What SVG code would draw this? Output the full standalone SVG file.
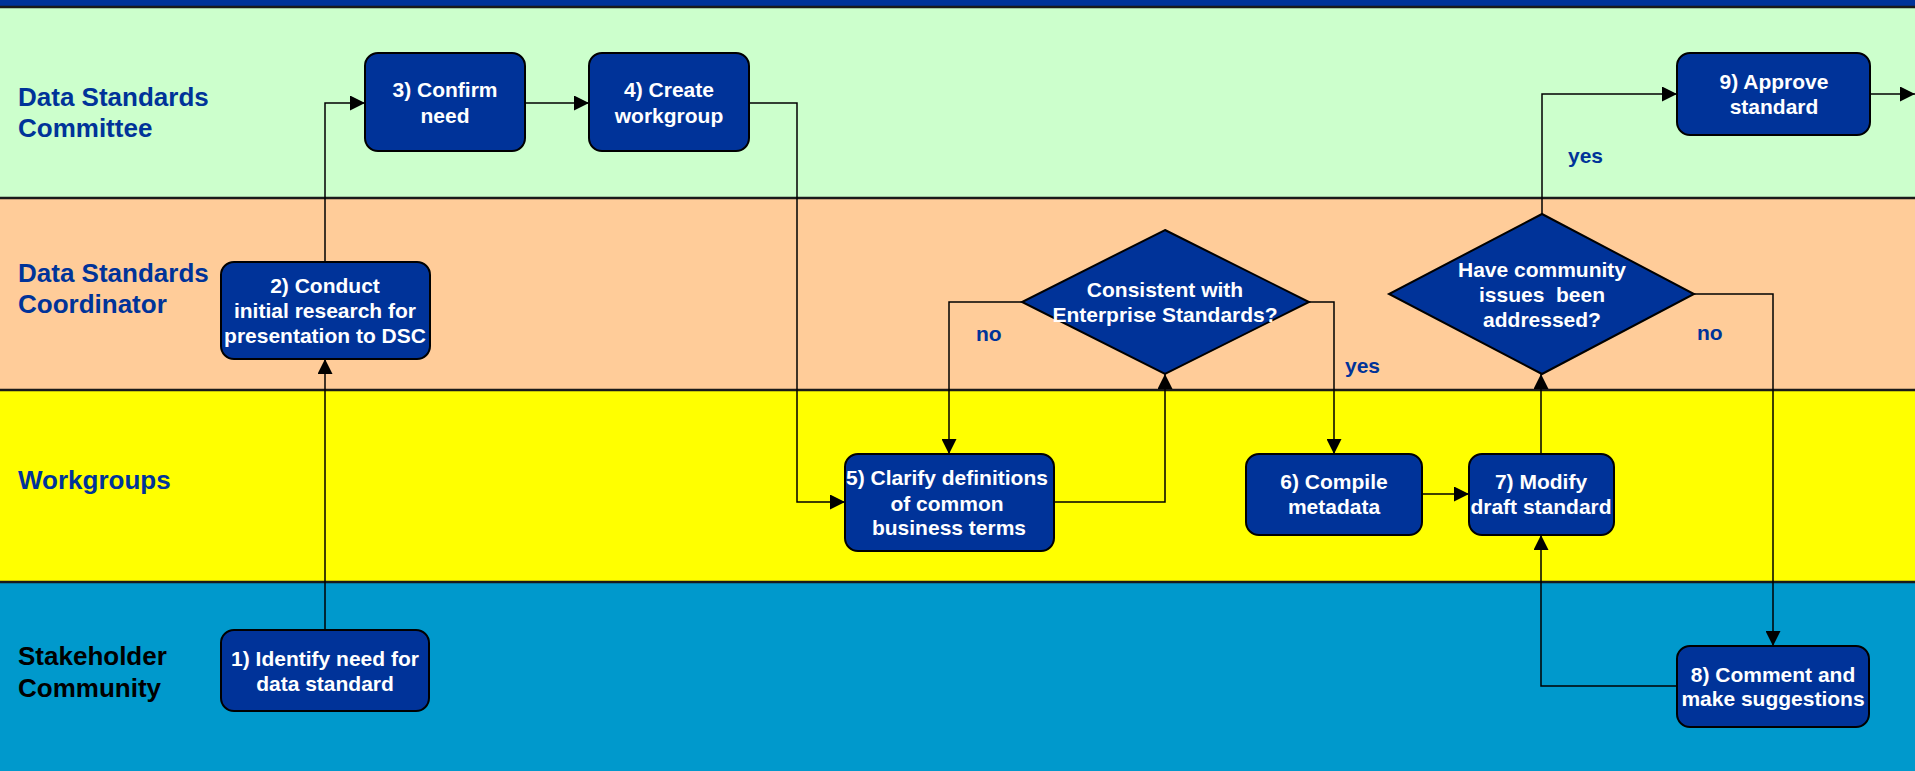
<svg xmlns="http://www.w3.org/2000/svg" width="1915" height="771" viewBox="0 0 1915 771">
<style>
.lane-label{font-family:"Liberation Sans",Arial,sans-serif;font-weight:bold;font-size:26px;fill:#003399}
.lane-label.dark{fill:#000}
.box{fill:#003399;stroke:#000;stroke-width:2}
.nt{font-family:"Liberation Sans",Arial,sans-serif;font-weight:bold;font-size:21px;fill:#fff;text-anchor:middle}
.lbl{font-family:"Liberation Sans",Arial,sans-serif;font-weight:bold;font-size:21px;fill:#003399}
.conn{fill:none;stroke:#000;stroke-width:1.5}
.sep{stroke:#1a1a1a;stroke-width:2.5}
</style>
<defs>
<marker id="arr" markerWidth="15" markerHeight="15" refX="15" refY="7.5" orient="auto" markerUnits="userSpaceOnUse">
<path d="M0,0 L15,7.5 L0,15 z" fill="#000"/>
</marker>
</defs>
<g id="lanes">
<rect x="0" y="0" width="1915" height="7" fill="#003399"/>
<rect x="0" y="7" width="1915" height="191" fill="#CCFFCC"/>
<rect x="0" y="198" width="1915" height="192" fill="#FFCC99"/>
<rect x="0" y="390" width="1915" height="192" fill="#FFFF00"/>
<rect x="0" y="582" width="1915" height="189" fill="#0099CC"/>
<line class="sep" x1="0" y1="7" x2="1915" y2="7"/>
<line class="sep" x1="0" y1="198" x2="1915" y2="198"/>
<line class="sep" x1="0" y1="390" x2="1915" y2="390"/>
<line class="sep" x1="0" y1="582" x2="1915" y2="582"/>
<text class="lane-label" x="18" y="106">Data Standards</text>
<text class="lane-label" x="18" y="137">Committee</text>
<text class="lane-label" x="18" y="282">Data Standards</text>
<text class="lane-label" x="18" y="313">Coordinator</text>
<text class="lane-label" x="18" y="489">Workgroups</text>
<text class="lane-label dark" x="18" y="665">Stakeholder</text>
<text class="lane-label dark" x="18" y="697">Community</text>
</g>
<g id="connectors">
<path class="conn" d="M325,630 L325,359" marker-end="url(#arr)"/>
<path class="conn" d="M325,262 L325,103 L365,103" marker-end="url(#arr)"/>
<path class="conn" d="M525,103 L589,103" marker-end="url(#arr)"/>
<path class="conn" d="M749,103 L797,103 L797,502 L845,502" marker-end="url(#arr)"/>
<path class="conn" d="M1054,502 L1165,502 L1165,374" marker-end="url(#arr)"/>
<path class="conn" d="M1022,302 L949,302 L949,454" marker-end="url(#arr)"/>
<path class="conn" d="M1309,302 L1334,302 L1334,454" marker-end="url(#arr)"/>
<path class="conn" d="M1422,494 L1469,494" marker-end="url(#arr)"/>
<path class="conn" d="M1541,454 L1541,374" marker-end="url(#arr)"/>
<path class="conn" d="M1542,214 L1542,94 L1677,94" marker-end="url(#arr)"/>
<path class="conn" d="M1694,294 L1773,294 L1773,646" marker-end="url(#arr)"/>
<path class="conn" d="M1677,686 L1541,686 L1541,535" marker-end="url(#arr)"/>
<path class="conn" d="M1870,94 L1915,94" marker-end="url(#arr)"/>
<text class="lbl" x="976" y="341">no</text>
<text class="lbl" x="1345" y="373">yes</text>
<text class="lbl" x="1568" y="163">yes</text>
<text class="lbl" x="1697" y="340">no</text>
</g>
<g id="node1">
<rect class="box" x="221" y="630" width="208" height="81" rx="13"/>
<text class="nt" x="325" y="666">1) Identify need for</text>
<text class="nt" x="325" y="691">data standard</text>
</g>
<g id="node2">
<rect class="box" x="221" y="262" width="209" height="97" rx="13"/>
<text class="nt" x="325" y="293">2) Conduct</text>
<text class="nt" x="325" y="318">initial research for</text>
<text class="nt" x="325" y="343">presentation to DSC</text>
</g>
<g id="node3">
<rect class="box" x="365" y="53" width="160" height="98" rx="13"/>
<text class="nt" x="445" y="97">3) Confirm</text>
<text class="nt" x="445" y="123">need</text>
</g>
<g id="node4">
<rect class="box" x="589" y="53" width="160" height="98" rx="13"/>
<text class="nt" x="669" y="97">4) Create</text>
<text class="nt" x="669" y="123">workgroup</text>
</g>
<g id="node5">
<rect class="box" x="845" y="454" width="209" height="97" rx="13"/>
<text class="nt" x="947" y="485">5) Clarify definitions</text>
<text class="nt" x="947" y="511">of common</text>
<text class="nt" x="949" y="535">business terms</text>
</g>
<g id="decision1">
<polygon class="box" points="1165,230 1309,302 1165,374 1022,302"/>
<text class="nt" x="1165" y="297">Consistent with</text>
<text class="nt" x="1165" y="322">Enterprise Standards?</text>
</g>
<g id="node6">
<rect class="box" x="1246" y="454" width="176" height="81" rx="13"/>
<text class="nt" x="1334" y="489">6) Compile</text>
<text class="nt" x="1334" y="514">metadata</text>
</g>
<g id="node7">
<rect class="box" x="1469" y="454" width="145" height="81" rx="13"/>
<text class="nt" x="1541" y="489">7) Modify</text>
<text class="nt" x="1541" y="514">draft standard</text>
</g>
<g id="decision2">
<polygon class="box" points="1542,214 1694,294 1542,374 1389,294"/>
<text class="nt" x="1542" y="277">Have community</text>
<text class="nt" x="1542" y="302" xml:space="preserve">issues  been</text>
<text class="nt" x="1542" y="327">addressed?</text>
</g>
<g id="node8">
<rect class="box" x="1677" y="646" width="192" height="81" rx="13"/>
<text class="nt" x="1773" y="682">8) Comment and</text>
<text class="nt" x="1773" y="706">make suggestions</text>
</g>
<g id="node9">
<rect class="box" x="1677" y="53" width="193" height="82" rx="13"/>
<text class="nt" x="1774" y="89">9) Approve</text>
<text class="nt" x="1774" y="114">standard</text>
</g>
</svg>
